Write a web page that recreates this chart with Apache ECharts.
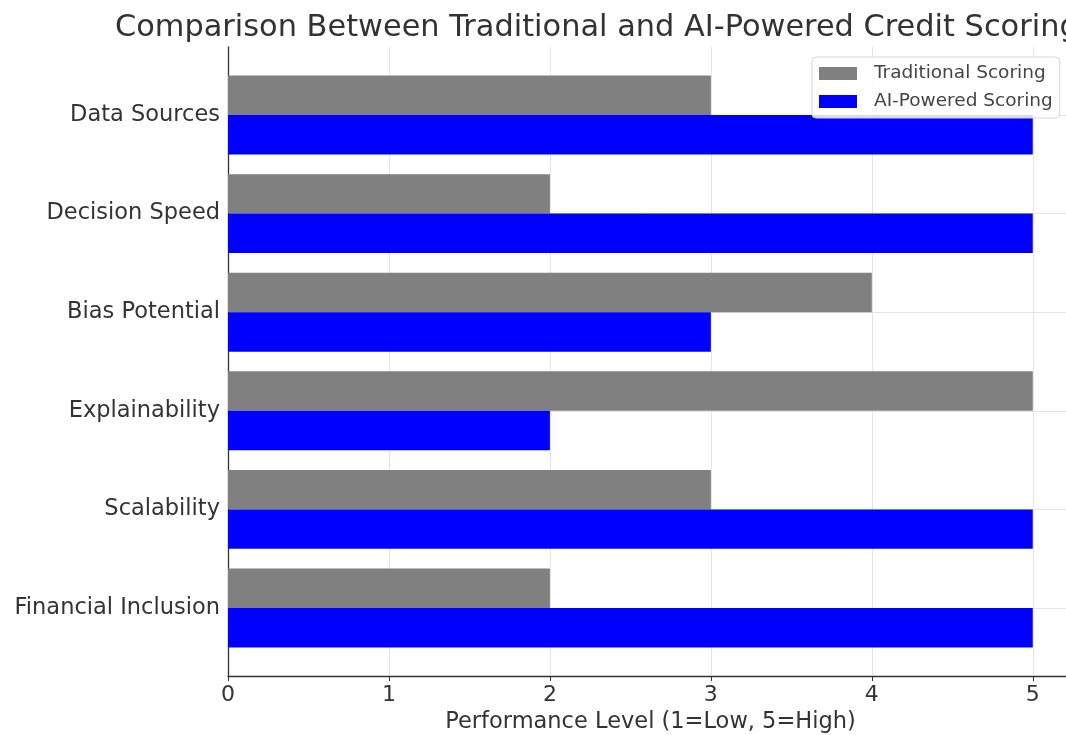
<!DOCTYPE html>
<html>
<head>
<meta charset="utf-8">
<title>Credit Scoring Comparison</title>
<script src="https://cdn.jsdelivr.net/npm/echarts@6/dist/echarts.min.js"></script>
<style>
  html, body { margin: 0; padding: 0; background: #fff; }
  #chart { width: 1066px; height: 735px; }
</style>
</head>
<body>
<div id="chart"></div>
<script>
// Criteria, listed top to bottom
const categories = ['Data Sources', 'Decision Speed', 'Bias Potential', 'Explainability', 'Scalability', 'Financial Inclusion'];
// Performance level (1 = Low, 5 = High)
const traditionalScores = [3, 2, 4, 5, 3, 2];
const aiScores = [5, 5, 3, 2, 5, 5];
const xTicks = [0, 1, 2, 3, 4, 5];

const FONT = 'DejaVu Sans';
const X_MAX = 5.25;
const LEFT = 228;
const WIDTH = 845;

const chart = echarts.init(document.getElementById('chart'), null, { renderer: 'canvas' });

const gridBase = { left: LEFT, width: WIDTH, containLabel: false, outerBoundsMode: 'none' };

chart.setOption({
  animation: false,
  backgroundColor: '#ffffff',
  title: {
    text: 'Comparison Between Traditional and AI-Powered Credit Scoring',
    left: 110,
    top: 8,
    textStyle: { fontFamily: FONT, fontSize: 30.4, fontWeight: 'normal', color: '#333333' }
  },
  legend: {
    orient: 'vertical',
    left: 812,
    top: 57,
    padding: [7, 7, 7, 7],
    icon: 'rect',
    itemWidth: 38,
    itemHeight: 13,
    itemGap: 9,
    backgroundColor: 'rgba(255,255,255,0.85)',
    borderColor: '#d6d6d6',
    borderWidth: 1,
    borderRadius: 4,
    textStyle: { fontFamily: FONT, fontSize: 18.5, color: '#444444', padding: [0, 0, 0, 12] },
    data: ['Traditional Scoring', 'AI-Powered Scoring']
  },
  grid: [
    // frame: spines, vertical grid lines, x ticks
    Object.assign({ top: 47, height: 629 }, gridBase),
    // horizontal grid lines through category centres
    Object.assign({ top: 115, height: 493 }, gridBase),
    // bars
    Object.assign({ top: 65.7, height: 591.6 }, gridBase)
  ],
  xAxis: [
    {
      gridIndex: 0, type: 'value', min: 0, max: X_MAX, interval: 1,
      name: 'Performance Level (1=Low, 5=High)',
      nameLocation: 'middle', nameGap: 35,
      nameTextStyle: { fontFamily: FONT, fontSize: 22.5, color: '#333333' },
      axisLine: { show: true, lineStyle: { color: '#333333', width: 1.3 } },
      axisTick: { show: true, length: 5, lineStyle: { color: '#333333' } },
      axisLabel: {
        fontFamily: FONT, fontSize: 22, color: '#333333', margin: 8,
        formatter: v => (xTicks.indexOf(v) >= 0 ? String(v) : '')
      },
      splitLine: { show: true, lineStyle: { color: '#e4e4e4', width: 1 } }
    },
    { gridIndex: 1, type: 'value', min: 0, max: X_MAX, show: false },
    { gridIndex: 2, type: 'value', min: 0, max: X_MAX, show: false }
  ],
  yAxis: [
    {
      gridIndex: 0, type: 'value', min: 0, max: 1,
      axisLine: { show: true, lineStyle: { color: '#333333', width: 1.3 } },
      axisTick: { show: false }, axisLabel: { show: false }, splitLine: { show: false }
    },
    {
      gridIndex: 1, type: 'value', min: 0, max: 5, interval: 1,
      axisLine: { show: false }, axisTick: { show: false }, axisLabel: { show: false },
      splitLine: { show: true, lineStyle: { color: '#e4e4e4', width: 1 } }
    },
    {
      gridIndex: 2, type: 'category', data: categories, inverse: true,
      axisLine: { show: false },
      axisTick: { show: false },
      axisLabel: { fontFamily: FONT, fontSize: 22.5, color: '#333333', margin: 8 },
      splitLine: { show: false }
    }
  ],
  series: [
    {
      name: 'Traditional Scoring', type: 'bar', xAxisIndex: 2, yAxisIndex: 2,
      data: traditionalScores, barGap: '0%', barCategoryGap: '20%',
      itemStyle: { color: '#808080' }
    },
    {
      name: 'AI-Powered Scoring', type: 'bar', xAxisIndex: 2, yAxisIndex: 2,
      data: aiScores, barGap: '0%', barCategoryGap: '20%',
      itemStyle: { color: '#0000ff' }
    }
  ]
});
</script>
</body>
</html>
